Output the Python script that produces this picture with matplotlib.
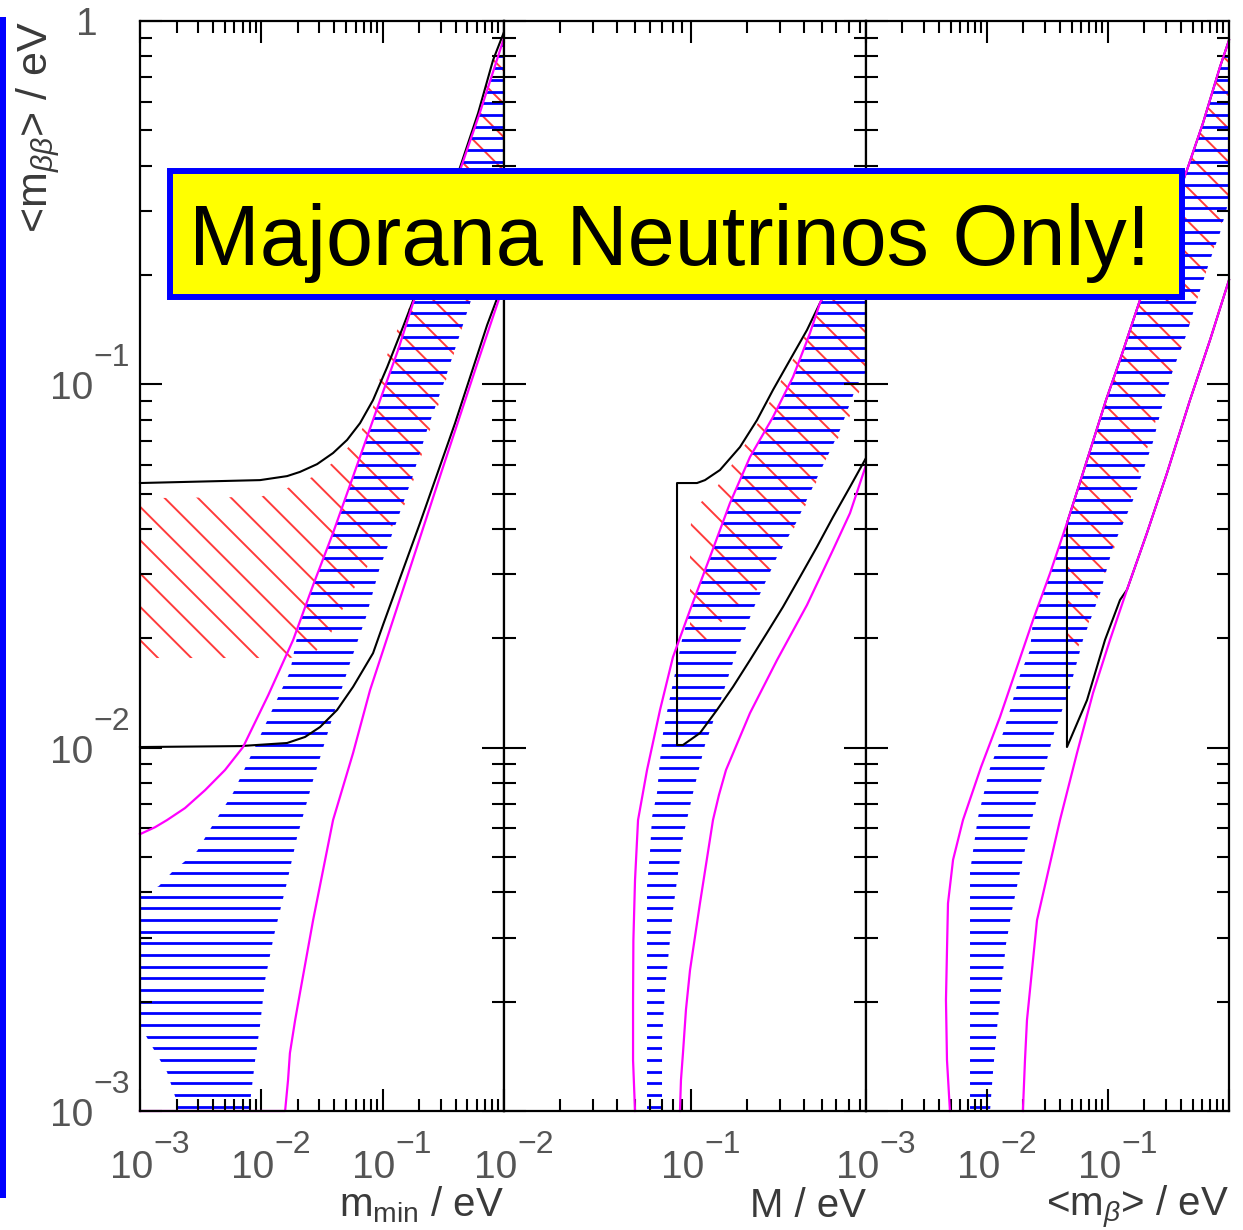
import numpy as np
import matplotlib
matplotlib.use("Agg")
import matplotlib.pyplot as plt
from matplotlib.patches import Polygon, Rectangle
from matplotlib.ticker import FixedLocator, LogLocator, NullFormatter
from matplotlib.transforms import blended_transform_factory, ScaledTranslation

plt.rcParams['font.family'] = ['Liberation Sans', 'DejaVu Sans']
plt.rcParams['mathtext.fontset'] = 'custom'
plt.rcParams['mathtext.rm'] = 'Liberation Sans'
plt.rcParams['mathtext.it'] = 'Liberation Sans:italic'
plt.rcParams['mathtext.bf'] = 'Liberation Sans:bold'
plt.rcParams['hatch.linewidth'] = 1.4

# ---------- panel 1 : <m_bb> vs m_min ----------
ih_up_mmin = [1.00e-3, 9.76e-3, 1.63e-2, 2.08e-2, 2.88e-2, 3.90e-2, 5.09e-2, 6.51e-2,
              8.33e-2, 0.109, 0.147, 0.175, 0.435, 0.612, 0.813, 1.0]
ih_up_mbb = [0.0535, 0.0545, 0.0559, 0.0574, 0.0603, 0.0647, 0.0703, 0.0782,
             0.0905, 0.1116, 0.1438, 0.1674, 0.3964, 0.558, 0.781, 0.933]
ih_lo_mmin = [1.00e-3, 6.68e-3, 1.63e-2, 2.29e-2, 3.05e-2, 4.21e-2, 5.70e-2, 8.33e-2,
              0.1008, 0.139, 0.203, 0.395, 0.726, 1.0]
ih_lo_mbb = [0.01004, 0.0101, 0.0103, 0.0107, 0.0114, 0.0127, 0.0147, 0.0182,
             0.0218, 0.0293, 0.0415, 0.0782, 0.1456, 0.1937]
nh_up_mmin = [1.00e-3, 1.33e-3, 1.67e-3, 2.35e-3, 3.44e-3, 5.02e-3, 7.07e-3, 1.14e-2, 1.83e-2,
              2.67e-2, 3.90e-2, 6.15e-2, 9.52e-2, 0.134, 0.178, 0.435, 0.635, 1.0]
nh_up_mbb = [5.78e-3, 6.04e-3, 6.32e-3, 6.82e-3, 7.64e-3, 8.68e-3, 1.004e-2, 1.395e-2, 1.98e-2,
             2.80e-2, 3.90e-2, 5.99e-2, 9.05e-2, 0.1243, 0.1674, 0.389, 0.5616, 0.898]
nh_lo_mmin = [1.00e-3, 1.57e-2, 1.66e-2, 1.72e-2, 1.90e-2, 2.08e-2, 2.67e-2, 3.90e-2,
              5.70e-2, 7.87e-2, 0.156, 0.303, 0.589, 1.0]
nh_lo_mbb = [1.0e-3, 1.0e-3, 1.217e-3, 1.443e-3, 1.78e-3, 2.11e-3, 3.35e-3, 6.32e-3,
             9.66e-3, 1.44e-2, 2.89e-2, 5.70e-2, 0.1116, 0.1888]
# best-fit regions (outlines)
nh_fit_mmin = [7.92e-3, 8.87e-3, 9.76e-3, 1.073e-2, 1.273e-2, 1.60e-2, 1.97e-2, 2.67e-2, 3.76e-2,
               5.38e-2, 7.30e-2, 9.34e-2, 0.129, 0.175, 0.232, 0.315, 0.426, 0.525, 1.0, 1.0,
               0.635, 0.435, 0.178, 9.52e-2, 6.15e-2, 3.90e-2, 2.67e-2, 2.13e-2, 1.72e-2,
               1.35e-2, 8.87e-3, 5.84e-3, 3.92e-3, 2.95e-3, 1.84e-3, 1.43e-3, 1.0e-3, 1.0e-3,
               1.28e-3, 1.67e-3, 1.94e-3, 2.06e-3]
nh_fit_mbb = [1.0e-3, 1.372e-3, 1.72e-3, 2.29e-3, 3.05e-3, 4.16e-3, 5.67e-3, 8.14e-3, 1.176e-2,
              1.71e-2, 2.29e-2, 3.08e-2, 4.15e-2, 5.52e-2, 7.48e-2, 9.96e-2, 0.135, 0.1674,
              0.3215, 0.898, 0.5616, 0.389, 0.1674, 9.05e-2, 5.99e-2, 3.90e-2, 2.80e-2,
              2.29e-2, 1.615e-2, 1.36e-2, 1.004e-2, 7.50e-3, 6.08e-3, 5.19e-3, 4.55e-3,
              4.16e-3, 3.90e-3, 1.72e-3, 1.49e-3, 1.28e-3, 1.10e-3, 1.0e-3]
ih_fit_mmin = [1.0e-3, 9.76e-3, 1.51e-2, 2.88e-2, 4.45e-2, 6.51e-2, 8.33e-2, 0.1008, 0.139,
               0.175, 0.435, 0.612, 0.813, 1.0, 1.0, 0.525, 0.395, 0.297, 0.203, 0.159, 0.115,
               7.44e-2, 5.09e-2, 3.68e-2, 2.77e-2, 1.72e-2, 1.0e-3]
ih_fit_mbb = [4.86e-2, 4.90e-2, 5.12e-2, 5.63e-2, 6.31e-2, 7.34e-2, 8.66e-2, 0.113, 0.1475,
              0.1674, 0.394, 0.558, 0.781, 0.915, 0.3215, 0.1674, 0.1243, 9.05e-2, 6.19e-2,
              4.80e-2, 3.97e-2, 3.14e-2, 2.55e-2, 2.04e-2, 1.83e-2, 1.765e-2, 1.765e-2]

# ---------- panel 2 : <m_bb> vs M ----------
ih2_M = [0.863, 0.4897, 0.4173, 0.3383, 0.2745, 0.2254, 0.1828, 0.1429, 0.1188, 0.1077,
         0.0842, 0.0842, 0.0906, 0.1117, 0.1377, 0.1677, 0.2068, 0.2549, 0.3104, 0.3828,
         0.4718, 0.5745, 0.7085, 0.863]
ih2_mbb = [0.305, 0.1674, 0.1411, 0.1167, 0.0965, 0.0797, 0.0672, 0.0581, 0.0545, 0.0535,
           0.0535, 0.01017, 0.01017, 0.01097, 0.0127, 0.0147, 0.01742, 0.0207, 0.0244,
           0.0295, 0.0357, 0.0431, 0.0522, 0.0627]
nh2_up_M = [5.02e-2, 4.90e-2, 4.90e-2, 4.92e-2, 5.02e-2, 5.21e-2, 5.82e-2, 6.83e-2, 8.01e-2,
            9.88e-2, 0.1264, 0.1616, 0.2068, 0.2745, 0.3511, 0.4329, 0.4897, 0.863]
nh2_up_mbb = [1.0e-3, 1.38e-3, 2.02e-3, 2.95e-3, 4.32e-3, 6.32e-3, 8.68e-3, 1.27e-2, 1.776e-2,
              2.39e-2, 3.35e-2, 4.71e-2, 6.31e-2, 8.13e-2, 0.1047, 0.1384, 0.1674, 0.295]
nh2_lo_M = [8.73e-2, 8.84e-2, 9.06e-2, 9.40e-2, 9.88e-2, 0.1117, 0.1311, 0.1411, 0.1539,
            0.2068, 0.2884, 0.4173, 0.5745, 0.7085, 0.863]
nh2_lo_mbb = [1.0e-3, 1.217e-3, 1.443e-3, 1.90e-3, 2.44e-3, 3.73e-3, 6.32e-3, 7.41e-3,
              8.68e-3, 1.245e-2, 1.742e-2, 2.47e-2, 3.50e-2, 4.42e-2, 5.99e-2]
nh2_fit_M = [5.82e-2, 7.00e-2, 7.00e-2, 7.26e-2, 8.01e-2, 9.06e-2, 0.1025, 0.1188, 0.1447,
             0.1762, 0.2199, 0.2884, 0.3643, 0.4718, 0.6264, 0.772, 0.863, 0.863, 0.4897,
             0.4329, 0.3511, 0.2745, 0.2068, 0.1616, 0.1264, 9.88e-2, 8.95e-2, 8.42e-2,
             7.91e-2, 7.44e-2, 7.09e-2, 6.83e-2, 6.58e-2, 6.19e-2, 6.04e-2, 5.82e-2]
nh2_fit_mbb = [1.0e-3, 1.0e-3, 1.567e-3, 2.15e-3, 3.57e-3, 5.67e-3, 7.50e-3, 1.017e-2, 1.36e-2,
               1.856e-2, 2.47e-2, 3.35e-2, 4.15e-2, 5.52e-2, 7.48e-2, 9.96e-2, 0.1081, 0.295,
               0.1674, 0.1384, 0.1047, 8.13e-2, 6.31e-2, 4.71e-2, 3.35e-2, 2.39e-2, 1.98e-2,
               1.70e-2, 1.46e-2, 1.253e-2, 1.097e-2, 9.25e-3, 7.50e-3, 6.44e-3, 5.19e-3, 4.16e-3]
ih2_fit_M = [9.88e-2, 0.1025, 0.1429, 0.2254, 0.2884, 0.3687, 0.4492, 0.5337, 0.6828, 0.8012,
             0.863, 0.863, 0.4897, 0.4492, 0.3828, 0.3104, 0.2549, 0.2068, 0.1677, 0.1377,
             0.1117, 0.1025, 9.88e-2]
ih2_fit_mbb = [1.80e-2, 1.80e-2, 2.20e-2, 2.72e-2, 3.35e-2, 4.15e-2, 5.12e-2, 6.31e-2, 7.82e-2,
               9.65e-2, 0.1074, 0.30, 0.1674, 0.1532, 0.1267, 0.1047, 8.66e-2, 7.16e-2,
               6.07e-2, 5.22e-2, 4.71e-2, 4.51e-2, 3.97e-2]

# ---------- panel 3 : <m_bb> vs <m_b> ----------
nh3_up_mb = [4.94e-3, 4.67e-3, 4.58e-3, 4.67e-3, 4.76e-3, 5.24e-3, 6.33e-3, 8.92e-3, 1.28e-2,
             1.77e-2, 2.40e-2, 3.32e-2, 4.58e-2, 6.21e-2, 9.63e-2, 0.1257, 0.1838, 0.4497,
             0.610, 0.842, 1.0]
nh3_up_mbb = [1.0e-3, 1.38e-3, 2.02e-3, 2.77e-3, 3.73e-3, 4.91e-3, 6.32e-3, 8.84e-3, 1.214e-2,
              1.667e-2, 2.245e-2, 3.02e-2, 4.15e-2, 5.70e-2, 9.05e-2, 0.1167, 0.1706, 0.389,
              0.524, 0.747, 0.886]
nh3_lo_mb = [1.98e-2, 2.06e-2, 2.14e-2, 2.59e-2, 4.01e-2, 5.54e-2, 7.52e-2, 0.1039, 0.1435,
             0.210, 0.3074, 0.476, 0.697, 1.0]
nh3_lo_mbb = [1.0e-3, 1.38e-3, 1.78e-3, 3.35e-3, 6.32e-3, 9.66e-3, 1.414e-2, 1.98e-2, 2.72e-2,
              3.90e-2, 5.70e-2, 9.05e-2, 0.1324, 0.1937]
ih3_mb = [1.0, 0.842, 0.610, 0.4497, 0.1838, 0.1257, 9.63e-2, 6.21e-2, 4.58e-2, 4.58e-2,
          6.71e-2, 9.45e-2, 0.1257, 0.1435, 0.210, 0.3074, 0.476, 0.697, 1.0]
ih3_mbb = [0.886, 0.747, 0.524, 0.389, 0.1706, 0.1167, 9.05e-2, 5.70e-2, 4.15e-2, 1.004e-2,
           1.352e-2, 1.98e-2, 2.55e-2, 2.72e-2, 3.90e-2, 5.70e-2, 9.05e-2, 0.1324, 0.1937]
nh3_fit_mb = [7.24e-3, 1.059e-2, 1.121e-2, 1.187e-2, 1.305e-2, 1.436e-2, 1.61e-2, 1.874e-2,
              2.27e-2, 2.79e-2, 3.58e-2, 4.85e-2, 6.21e-2, 8.59e-2, 0.110, 0.161, 0.2354,
              0.2848, 0.3445, 0.4497, 0.5437, 0.697, 0.842, 1.0, 1.0, 0.842, 0.610, 0.4497,
              0.1838, 0.1257, 9.63e-2, 6.21e-2, 4.58e-2, 3.32e-2, 2.40e-2, 2.27e-2, 1.874e-2,
              1.55e-2, 1.356e-2, 1.059e-2, 8.43e-3, 7.66e-3, 7.24e-3]
nh3_fit_mbb = [1.0e-3, 1.0e-3, 1.28e-3, 1.588e-3, 2.15e-3, 2.88e-3, 3.57e-3, 4.55e-3, 6.05e-3,
               8.04e-3, 1.097e-2, 1.46e-2, 1.98e-2, 2.65e-2, 3.57e-2, 4.80e-2, 6.94e-2,
               8.88e-2, 0.1095, 0.1384, 0.1706, 0.2198, 0.261, 0.3215, 0.886, 0.747, 0.524,
               0.389, 0.1706, 0.1167, 9.05e-2, 5.70e-2, 4.15e-2, 3.02e-2, 2.245e-2, 1.856e-2,
               1.585e-2, 1.27e-2, 1.097e-2, 8.79e-3, 6.44e-3, 5.19e-3, 4.55e-3]
ih3_fit_mb = [4.58e-2, 5.65e-2, 6.71e-2, 8.11e-2, 9.81e-2, 0.1257, 0.152, 0.1838, 0.2354,
              0.269, 0.3445, 0.4497, 0.5437, 0.697, 1.0, 1.0, 0.842, 0.610, 0.4497, 0.1838,
              0.1257, 9.63e-2, 6.21e-2, 4.58e-2]
ih3_fit_mbb = [1.89e-2, 1.89e-2, 2.15e-2, 2.55e-2, 3.14e-2, 3.90e-2, 4.80e-2, 5.92e-2,
               7.34e-2, 9.05e-2, 0.1095, 0.1384, 0.1706, 0.2198, 0.3215, 0.886, 0.747, 0.524,
               0.389, 0.1706, 0.1167, 9.05e-2, 5.70e-2, 4.15e-2]

# ticks / labels (decade exponents)
y_tick_exp = [-3, -2, -1, 0]
x_tick_exp = [[-3, -2, -1], [-2, -1], [-3, -2, -1]]
x_limits = [(1e-3, 1.0), (1e-2, 0.863), (1e-3, 1.0)]
x_titles = [r'm$_{\mathrm{min}}$ / eV', 'M / eV', r'<m$_{\beta}$> / eV']
y_title = r'<m$_{\beta\beta}$> / eV'

W, H = 1243, 1230
fig = plt.figure(figsize=(W / 100, H / 100), dpi=100)
fig.patch.set_facecolor('white')


def px_box(x0, x1, y_top=21, y_bot=1111):
    return [x0 / W, 1 - y_bot / H, (x1 - x0) / W, (y_bot - y_top) / H]


axes = [fig.add_axes(px_box(140, 504)), fig.add_axes(px_box(504, 866)),
        fig.add_axes(px_box(866, 1229))]

# horizontal hatch lines (same phase in all panels)
hatch_y = 10 ** (-2.9885 + 0.03212 * np.arange(94))

BLUE = '#0000ff'
MAG = '#ff00ff'
RED = '#ff3b3b'
TICK_GRAY = '#555555'
LABEL_GRAY = '#3a3a3a'
MINUS = '\u2212'


def red_region(ax, xs, ys):
    p = Polygon(np.column_stack([xs, ys]), closed=True, facecolor='none',
                edgecolor=RED, lw=0, hatch='\\', zorder=1)
    ax.add_patch(p)


def blue_region(ax, xs, ys, xlim):
    p = Polygon(np.column_stack([xs, ys]), closed=True, facecolor='none',
                edgecolor='none', lw=0)
    ax.add_patch(p)
    lc = ax.hlines(hatch_y, xlim[0], xlim[1], colors=BLUE, lw=2.0, zorder=1.5)
    lc.set_clip_path(p)


def power_label(ax, trans, x, y, e, base_dxy, exp_dxy):
    # "10" with a large raised exponent, like the original plotting package
    t1 = trans + ScaledTranslation(base_dxy[0], base_dxy[1], fig.dpi_scale_trans)
    t2 = trans + ScaledTranslation(exp_dxy[0], exp_dxy[1], fig.dpi_scale_trans)
    if e == 0:
        ax.text(x, y, '1', transform=t1, ha='right', va='baseline', fontsize=28,
                color=TICK_GRAY, clip_on=False)
        return
    ax.text(x, y, '10', transform=t1, ha='right', va='baseline', fontsize=28,
            color=TICK_GRAY, clip_on=False)
    ax.text(x, y, MINUS + str(-e), transform=t2, ha='left', va='baseline',
            fontsize=23, color=TICK_GRAY, clip_on=False)


panels = [
    dict(red=(ih_fit_mmin, ih_fit_mbb), blue=(nh_fit_mmin, nh_fit_mbb),
         black=[(ih_up_mmin, ih_up_mbb), (ih_lo_mmin, ih_lo_mbb)],
         mag=[(nh_up_mmin, nh_up_mbb), (nh_lo_mmin, nh_lo_mbb)]),
    dict(red=(ih2_fit_M, ih2_fit_mbb), blue=(nh2_fit_M, nh2_fit_mbb),
         black=[(ih2_M, ih2_mbb)],
         mag=[(nh2_up_M, nh2_up_mbb), (nh2_lo_M, nh2_lo_mbb)]),
    dict(red=(ih3_fit_mb, ih3_fit_mbb), blue=(nh3_fit_mb, nh3_fit_mbb),
         black=[(ih3_mb, ih3_mbb)],
         mag=[(nh3_up_mb, nh3_up_mbb), (nh3_lo_mb, nh3_lo_mbb)]),
]

for i, (ax, pan) in enumerate(zip(axes, panels)):
    ax.set_xscale('log')
    ax.set_yscale('log')
    ax.set_xlim(*x_limits[i])
    ax.set_ylim(1e-3, 1.0)

    red_region(ax, *pan['red'])
    blue_region(ax, *pan['blue'], x_limits[i])
    for xs, ys in pan['black']:
        ax.plot(xs, ys, color='k', lw=1.5, zorder=2, clip_on=False)
    for xs, ys in pan['mag']:
        ax.plot(xs, ys, color=MAG, lw=1.6, zorder=2.2, clip_on=False)

    ax.set_xlim(*x_limits[i])
    ax.set_ylim(1e-3, 1.0)
    xt = [10.0 ** e for e in x_tick_exp[i]]
    ax.xaxis.set_major_locator(FixedLocator(xt + [1.0]))
    ax.yaxis.set_major_locator(FixedLocator([10.0 ** e for e in y_tick_exp]))
    ax.xaxis.set_minor_locator(LogLocator(base=10, subs=np.arange(2, 10), numticks=40))
    ax.yaxis.set_minor_locator(LogLocator(base=10, subs=np.arange(2, 10), numticks=40))
    ax.xaxis.set_minor_formatter(NullFormatter())
    ax.yaxis.set_minor_formatter(NullFormatter())
    ax.tick_params(which='both', direction='in', top=True, right=True,
                   labelbottom=False, labelleft=False, width=1.5, color='k')
    ax.tick_params(which='major', length=16)
    ax.tick_params(which='minor', length=8.5)
    for s in ax.spines.values():
        s.set_linewidth(1.6)
        s.set_zorder(3)

    # x tick labels
    trx = blended_transform_factory(ax.transData, ax.transAxes)
    for v, e in zip(xt, x_tick_exp[i]):
        power_label(ax, trx, v, 0, e, (0.13, -0.67), (0.13, -0.42))
    # axis title
    ax.text(1.0, -0.097, x_titles[i], transform=ax.transAxes, ha='right',
            va='baseline', fontsize=29, color=LABEL_GRAY)

# y tick labels on the left panel
ax1 = axes[0]
try_ = blended_transform_factory(ax1.transAxes, ax1.transData)
for e in y_tick_exp:
    if e == 0:
        power_label(ax1, try_, 0, 1.0, e, (-0.42, -0.14), (0, 0))
    else:
        power_label(ax1, try_, 0, 10.0 ** e, e, (-0.47, -0.15), (-0.47, 0.18))
ax1.text(-0.2555, 1.0, y_title, transform=ax1.transAxes, rotation=90,
         rotation_mode='anchor', ha='right', va='baseline', fontsize=31,
         color=LABEL_GRAY)

# slide decorations
fig.add_artist(Rectangle((0, 1 - 1198 / H), 6 / W, (1198 - 17) / H,
                         transform=fig.transFigure, facecolor=BLUE, lw=0))
fig.add_artist(Rectangle((170 / W, 1 - 297 / H), (1182 - 170) / W, (297 - 171) / H,
                         transform=fig.transFigure, facecolor='#ffff00',
                         edgecolor=BLUE, lw=4.3, zorder=10))
fig.text(670 / W, 1 - 265 / H, 'Majorana Neutrinos Only!', ha='center',
         va='baseline', fontsize=61, color='k', zorder=11)

fig.savefig('out.png', dpi=100)
